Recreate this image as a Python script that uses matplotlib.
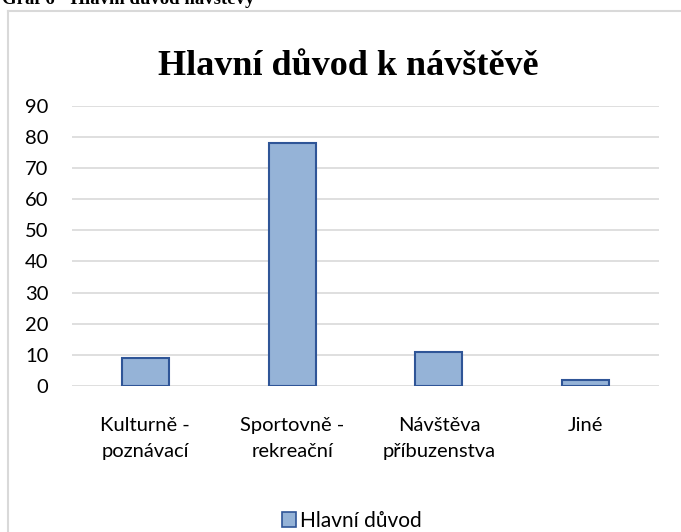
import matplotlib
matplotlib.use("Agg")
import matplotlib.pyplot as plt
from matplotlib.lines import Line2D
from matplotlib.patches import Patch

categories = ["Kulturně -\npoznávací", "Sportovně -\nrekreační", "Návštěva\npříbuzenstva", "Jiné"]
values = [9, 78, 11, 2]
yticks = [0, 10, 20, 30, 40, 50, 60, 70, 80, 90]
series_name = "Hlavní důvod"
title = "Hlavní důvod k návštěvě"
caption = "Graf 6 - Hlavní důvod návštěvy"

W, H = 681, 532
fig = plt.figure(figsize=(W / 100, H / 100), dpi=100)
sans = ["Lato", "DejaVu Sans"]
serif = ["Liberation Serif", "DejaVu Serif"]

# chart frame: only top and left edges are visible in the crop
fx = 7.5 / W
fy = 1 - 10.5 / H
fig.add_artist(Line2D([fx, 1.05], [fy, fy], transform=fig.transFigure, color="#d9d9d9", linewidth=1.5))
fig.add_artist(Line2D([fx, fx], [-0.05, fy], transform=fig.transFigure, color="#d9d9d9", linewidth=1.5))

fig.text(2 / W, 1 - 4 / H, caption, family=serif, fontweight="bold", fontsize=13.5,
         ha="left", va="baseline", color="black")

ax = fig.add_axes([72 / W, 1 - 386 / H, (659 - 72) / W, (386 - 105.7) / H])
x = list(range(len(categories)))
ax.bar(x, values, width=0.32, color="#95b3d7", edgecolor="#2f5597", linewidth=1.5, zorder=3,
       label=series_name)
ax.set_xlim(-0.5, len(categories) - 0.5)
ax.set_ylim(0, 90)
ax.set_yticks(yticks)
ax.set_xticks(x)
ax.set_xticklabels(categories, family=sans, fontsize=14.5, linespacing=1.65)
ax.set_yticklabels([str(t) for t in yticks], family=sans, fontsize=14.5)
ax.tick_params(axis="both", length=0, colors="black")
ax.tick_params(axis="y", pad=17)
ax.tick_params(axis="x", pad=22)
ax.grid(axis="y", color="#d9d9d9", linewidth=1.2, zorder=0)
for s in ax.spines.values():
    s.set_visible(False)

fig.text(348 / W, 1 - 75 / H, title, family=serif, fontweight="bold", fontsize=26,
         ha="center", va="baseline")

leg = fig.legend(handles=[Patch(facecolor="#95b3d7", edgecolor="#2f5597", linewidth=1.2,
                                label=series_name)],
                 loc="center", bbox_to_anchor=(352 / W, 1 - 521 / H), frameon=False,
                 prop={"family": sans, "size": 15}, handlelength=0.7, handleheight=0.7,
                 handletextpad=0.2)

fig.savefig("out.png", dpi=100, facecolor="white")
